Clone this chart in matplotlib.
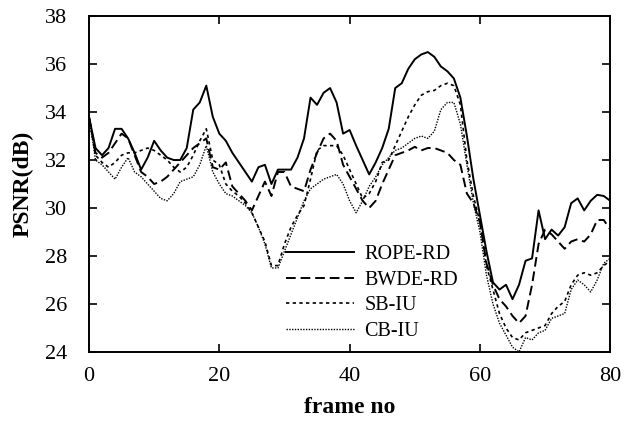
import matplotlib
matplotlib.use("Agg")
import matplotlib.pyplot as plt
import numpy as np

frames = np.arange(0, 81)

rope_rd = [33.8, 32.5, 32.2, 32.5, 33.3, 33.3, 32.9, 32.3, 31.6, 32.1,
           32.8, 32.4, 32.1, 32.0, 32.0, 32.5, 34.1, 34.4, 35.1, 33.8,
           33.1, 32.8, 32.3, 31.9, 31.5, 31.1, 31.7, 31.8, 31.0, 31.6,
           31.6, 31.6, 32.1, 32.9, 34.6, 34.3, 34.8, 35.0, 34.4, 33.1,
           33.25, 32.6, 32.0, 31.4, 31.9, 32.5, 33.3, 35.0, 35.2, 35.8,
           36.2, 36.4, 36.5, 36.3, 35.9, 35.7, 35.4, 34.6, 33.0, 31.2,
           29.7, 28.2, 26.9, 26.6, 26.8, 26.2, 26.8, 27.8, 27.9, 29.9,
           28.7, 29.1, 28.85, 29.2, 30.2, 30.4, 29.9, 30.3, 30.55, 30.5,
           30.3]

bwde_rd = [33.8, 32.3, 32.1, 32.3, 32.7, 33.1, 32.9, 32.2, 31.5, 31.3,
           31.0, 31.1, 31.3, 31.6, 31.9, 32.2, 32.5, 32.7, 32.9, 31.7,
           31.6, 31.9, 30.9, 30.6, 30.3, 29.9, 30.5, 31.1, 30.5, 31.5,
           31.5, 30.9, 30.8, 30.7, 31.6, 32.3, 32.9, 33.1, 32.8, 31.8,
           31.3, 30.8, 30.3, 30.0, 30.3, 31.0, 31.6, 32.2, 32.3, 32.4,
           32.55, 32.4, 32.5, 32.5, 32.4, 32.3, 32.0, 31.8, 30.6, 30.2,
           29.4, 27.7, 26.8, 26.2, 25.9, 25.5, 25.2, 25.5, 26.8, 28.5,
           29.1, 28.9, 28.6, 28.3, 28.6, 28.7, 28.6, 28.9, 29.5, 29.5,
           29.1]

sb_iu = [33.8, 32.2, 31.9, 31.7, 31.9, 32.2, 32.3, 32.3, 32.4, 32.5,
         32.4, 32.2, 32.0, 31.7, 31.5, 31.7, 32.2, 32.8, 33.3, 32.0,
         31.8, 31.0, 30.7, 30.5, 30.2, 29.8, 29.2, 28.6, 27.6, 27.6,
         28.5, 29.2, 29.7, 30.1, 31.2, 32.4, 32.6, 32.6, 32.6, 32.2,
         31.6, 31.0, 30.4, 30.6, 31.1, 31.9, 32.0, 32.6, 33.2, 33.8,
         34.3, 34.7, 34.85, 34.9, 35.1, 35.2, 35.1, 34.3, 32.0, 30.5,
         29.4, 27.6, 26.6, 25.6, 25.0, 24.6, 24.5, 24.8, 24.9, 25.0,
         25.1, 25.6, 25.9, 26.1, 26.8, 27.2, 27.3, 27.2, 27.3, 27.6,
         27.8]

cb_iu = [33.8, 32.0, 31.8, 31.5, 31.2, 31.7, 32.1, 31.5, 31.3, 31.0,
         30.7, 30.4, 30.3, 30.6, 31.1, 31.2, 31.3, 31.8, 32.6, 31.5,
         31.0, 30.6, 30.5, 30.3, 30.1, 29.8, 29.2, 28.5, 27.5, 27.5,
         28.2, 28.9, 29.6, 30.3, 30.8, 31.0, 31.2, 31.3, 31.4, 31.0,
         30.3, 29.8, 30.3, 30.9, 31.3, 31.8, 32.1, 32.4, 32.5, 32.7,
         32.9, 33.0, 32.9, 33.2, 34.1, 34.4, 34.4, 33.5, 31.8, 30.2,
         29.0, 27.2, 26.0, 25.2, 24.7, 24.2, 24.0, 24.6, 24.5, 24.8,
         24.9, 25.4, 25.5, 25.6, 26.6, 27.0, 26.8, 26.5, 27.0, 27.7,
         27.9]

plt.rcParams["font.family"] = ["Liberation Serif", "DejaVu Serif"]

fig = plt.figure(figsize=(6.25, 4.23), dpi=100)
ax = fig.add_axes([0.1424, 0.168, 0.834, 0.794])

ax.plot(frames, rope_rd, color="black", lw=1.4, label="ROPE-RD")
ax.plot(frames, bwde_rd, color="black", lw=1.4, dashes=(5, 2.5), label="BWDE-RD")
ax.plot(frames, sb_iu, color="black", lw=1.2, dashes=(2, 2), label="SB-IU")
ax.plot(frames, cb_iu, color="black", lw=1.0, dashes=(1, 1), label="CB-IU")

ax.set_xlim(0, 80)
ax.set_ylim(24, 38)
ax.set_xticks([0, 20, 40, 60, 80])
ax.set_yticks([24, 26, 28, 30, 32, 34, 36, 38])
ax.tick_params(direction="in", length=6, width=1.2, labelsize=16,
               top=True, right=True)
ax.tick_params(axis="y", pad=16)
ax.tick_params(axis="x", pad=11)
for s in ax.spines.values():
    s.set_linewidth(1.4)

ax.set_xlabel("frame no", fontsize=17, fontweight="bold", labelpad=8)
ax.set_ylabel("PSNR(dB)", fontsize=17, fontweight="bold", labelpad=8)

ax.legend(loc="upper left", bbox_to_anchor=(0.37, 0.33), frameon=False,
          fontsize=14.5, handlelength=3.4, handletextpad=0.5,
          labelspacing=0.32, borderpad=0.2, borderaxespad=0)

fig.savefig("out.png", dpi=100)
